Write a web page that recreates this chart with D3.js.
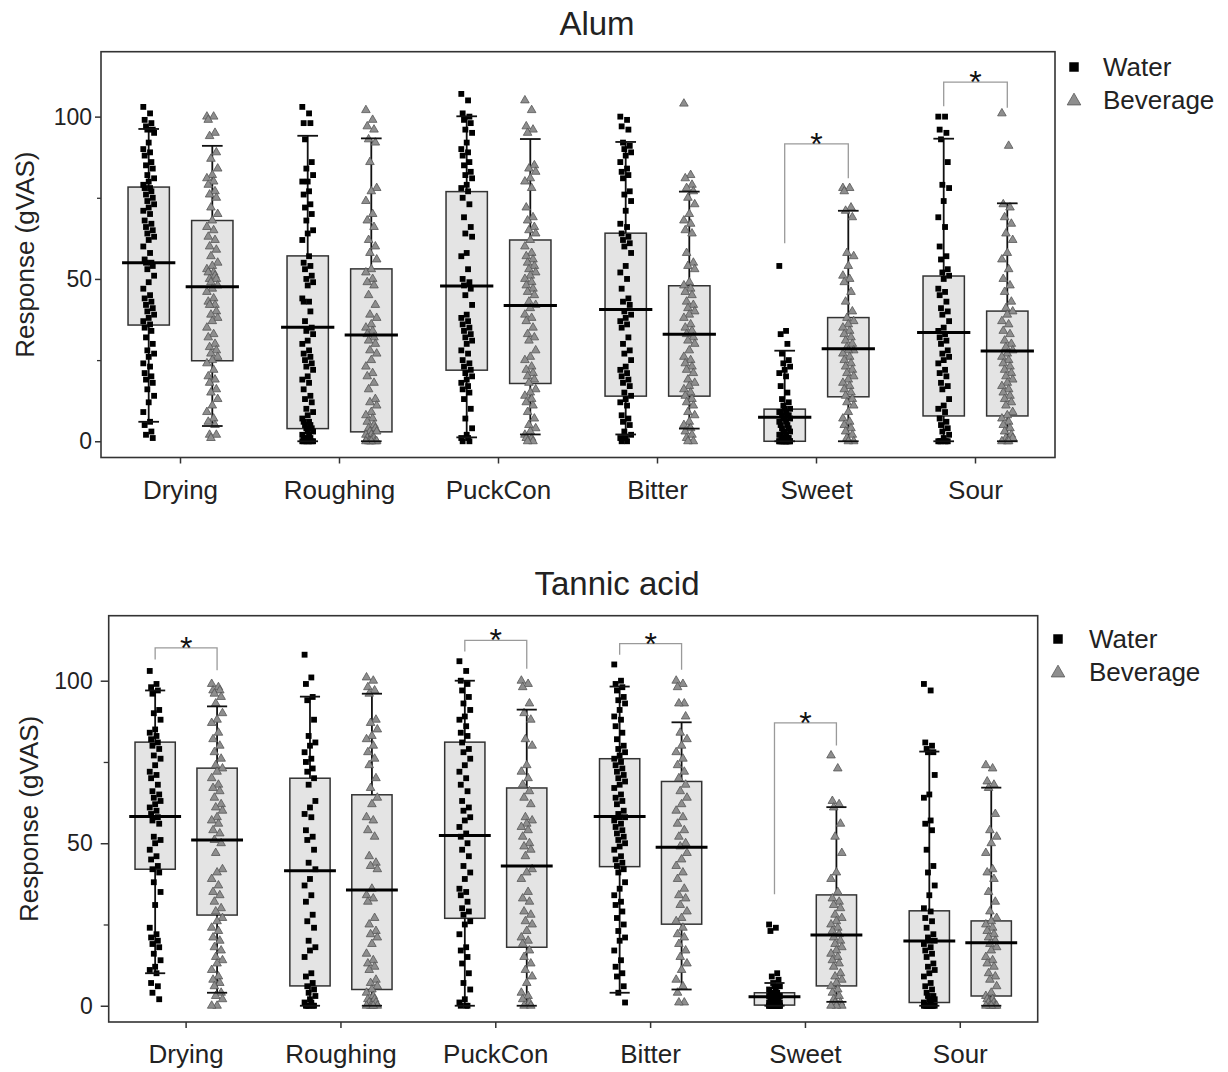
<!DOCTYPE html>
<html><head><meta charset="utf-8">
<script src="https://cdn.jsdelivr.net/npm/d3@7"></script>
<style>
body{margin:0;background:#fff;}
svg{display:block;font-family:"Liberation Sans",Arial,sans-serif;}
</style>
</head><body>
<svg id="chart" width="1228" height="1072"></svg>
<script>
// ---------------- DATA ----------------
const categories = ["Drying","Roughing","PuckCon","Bitter","Sweet","Sour"];
const series = ["Water","Beverage"];
const yTicks = [0,50,100];
const yMinorTicks = [25,75];
const panelTitles = ["Alum","Tannic acid"];
const yAxisTitle = "Response (gVAS)";

// box stats: [whiskerLow, Q1, median, Q3, whiskerHigh]
const alumWaterBox = [[6,35.8,55,78.3,96.2],[0,3.9,35.1,57.1,94.1],[1.2,21.9,47.8,76.9,100.1],[2.1,13.9,40.6,64.1,92.2],[0,0,7.4,9.9,27.9],[0,7.8,33.5,50.9,93.2]];
const alumBevBox   = [[4.7,24.8,47.6,68,91],[0,2.9,32.7,53.1,93.3],[2.1,17.8,41.8,62,93.1],[3.9,13.9,33,47.9,76.9],[0,13.7,28.5,38.1,71],[0,7.8,27.8,40.1,73.3]];
const tannicWaterBox = [[10,42,58.2,81.1,97],[0,6.1,41.5,70,95.1],[0,26.9,52.4,81.1,100],[4,42.8,58.2,76,98.2],[0,0.2,2.8,4,7],[0,1,19.9,29.2,78.2]];
const tannicBevBox   = [[4,27.9,51,73.1,92.1],[0,5,35.6,64.9,96],[0,18,43,67,91.1],[5,25.1,48.8,69,87.2],[1.2,6.1,21.8,34.1,61.1],[0,3,19.4,26.1,67.1]];

// individual responses
const alumWaterPts = [
 [103,101,99,98,97,96,96,95,92,90,89,88,86,85,84,82,81,80,79,78,78,77,76,75,74,73,72,71,70,68,67,66,65,64,63,62,60,58,56,55,55,54,53,51,49,47,45,44,43,42,41,40,39,38,37,36,35,34,32,30,28,27,26,24,23,21,20,19,18,16,14,12,9,6,5,3,2,1],
 [103,101,98,98,93,86,84,82,80,80,77,76,73,72,70,68,65,64,62,57,55,54,53,51,50,49,48,44,43,43,40,37,35,34,33,31,30,28,27,26,25,24,23,22,20,19,18,16,14,13,12,10,9,8,7,6,6,5,5,4,4,3,3,2,2,1,1,1,0,0,0,0,0,0,0],
 [107,105,101,100,99,98,96,95,92,90,89,88,86,85,83,82,81,79,78,77,75,73,69,66,64,63,58,57,53,50,49,48,47,45,42,39,38,37,36,35,34,33,32,31,30,28,27,25,24,23,22,21,20,19,18,17,16,15,13,10,7,4,2,1,1,0,0],
 [100,99,97,96,92,91,90,89,88,86,84,83,82,81,77,76,74,71,67,66,64,63,62,61,60,58,54,52,50,47,44,43,42,40,39,38,37,36,35,32,30,28,27,25,23,22,21,20,19,18,17,15,14,13,12,11,8,7,6,5,3,2,1,1,0,0],
 [54,34,33,30,27,25,24,23,22,21,20,17,15,13,12,11,10,10,9,9,9,8,8,8,7,7,7,6,6,5,5,4,4,3,3,3,2,2,2,1,1,1,1,0,0,0,0,0,0,0,0,0,0,0,0,0],
 [100,100,96,95,93,86,79,78,74,69,66,60,57,56,53,52,51,50,47,46,45,43,41,40,39,37,35,34,33,32,31,30,28,27,26,25,24,22,21,20,18,17,16,13,11,10,9,7,6,5,4,3,2,1,0,0,0,0,0,0]
];
const alumBevPts = [
 [100,100,99,95,94,89,87,84,82,81,80,79,77,76,75,72,70,68,66,65,63,62,60,59,57,55,54,53,52,52,51,50,50,49,48,47,46,44,43,42,42,40,39,38,37,35,33,32,30,29,28,27,26,25,24,22,20,19,18,16,15,13,11,9,7,6,5,2,2,1],
 [102,99,97,96,93,92,86,78,77,74,70,68,66,62,60,58,56,53,52,50,49,48,45,42,39,38,36,35,34,33,32,31,30,28,27,25,23,21,20,18,16,13,12,11,9,8,7,6,5,4,4,3,3,2,2,1,1,1,0,0,0,0,0,0],
 [105,102,97,96,95,85,84,83,81,80,78,72,69,68,66,65,64,62,60,58,57,56,55,54,53,52,51,50,49,48,47,46,45,43,42,41,39,38,37,35,33,32,31,28,26,25,23,22,21,20,19,18,16,15,14,13,12,11,9,7,5,4,3,2,1,1,0,0],
 [104,82,81,79,78,77,75,73,70,68,67,65,64,58,55,54,53,49,48,47,46,45,43,42,41,40,39,38,36,35,34,33,32,31,30,28,26,25,24,23,22,21,19,18,17,16,15,14,13,12,11,9,8,6,5,4,3,2,1,0,0],
 [78,78,77,72,71,69,58,57,54,51,50,49,46,43,40,38,37,36,35,34,33,32,31,30,29,28,28,27,26,25,24,23,22,21,20,19,18,17,16,15,14,13,12,11,9,7,6,5,4,3,2,1,0,0],
 [101,91,73,72,69,67,64,62,58,56,53,50,48,46,43,41,40,39,37,36,34,33,31,30,29,28,27,26,25,24,23,22,21,20,19,18,17,16,15,14,13,12,11,9,8,7,6,5,4,3,2,1,1,0,0,0]
];
const tannicWaterPts = [
 [103,99,98,97,96,91,90,88,85,84,83,82,81,80,79,77,76,74,72,71,70,68,66,65,64,63,62,61,60,59,58,57,56,52,51,50,48,46,45,43,42,41,38,35,31,24,22,21,20,19,18,16,14,12,11,10,7,6,4,2],
 [108,101,99,95,94,88,83,81,80,78,76,75,73,72,70,68,63,61,59,58,54,52,51,48,44,42,39,37,34,32,28,26,24,20,18,17,15,10,9,7,6,5,4,3,2,1,1,0,0,0,0,0],
 [106,103,100,99,97,95,93,91,89,88,86,84,83,81,79,78,76,74,72,70,68,66,63,61,60,58,57,55,53,52,50,48,46,43,41,39,36,35,34,32,30,29,28,26,25,22,18,17,15,13,10,7,5,2,1,0,0,0],
 [105,100,99,98,97,95,94,93,91,89,88,86,84,82,80,79,78,77,76,75,74,73,72,71,70,69,68,67,65,64,63,62,60,59,58,58,57,56,55,54,53,52,51,50,49,48,46,45,44,43,42,41,38,36,34,32,31,29,27,25,23,21,20,17,14,12,10,9,6,4,1],
 [25,24,23,10,9,8,7,6,6,5,5,4,4,4,3,3,3,3,3,2,2,2,2,2,2,1,1,1,1,1,1,0,0,0,0,0,0,0,0,0,0,0,0,0,0,0],
 [99,97,81,80,79,78,78,71,65,64,57,56,54,48,43,41,37,34,30,29,27,26,24,22,21,20,20,19,18,17,16,15,13,12,11,10,9,7,6,5,4,3,3,2,2,1,1,0,0,0,0,0,0,0,0,0]
];
const tannicBevPts = [
 [99,98,97,97,96,95,93,90,88,87,84,82,80,78,76,74,73,72,70,68,67,66,64,62,61,60,58,57,56,54,53,51,50,47,42,41,39,37,35,34,32,30,29,27,26,24,23,21,20,18,17,15,14,13,11,9,8,7,6,4,3,2,0,0],
 [101,100,98,97,96,88,87,85,83,82,80,78,76,74,70,67,64,62,58,57,54,52,46,44,43,42,36,34,33,32,27,25,23,22,21,19,16,14,13,12,11,8,7,6,5,4,3,2,2,1,1,0,0,0,0,0],
 [100,99,98,93,90,88,82,80,74,72,70,68,66,64,62,58,57,56,55,54,52,50,49,48,46,42,41,39,35,33,32,29,28,26,25,23,21,20,19,17,15,13,11,9,7,4,3,2,1,0,0],
 [100,99,98,93,93,89,84,82,80,78,76,74,72,70,68,66,64,62,60,58,56,54,52,50,49,47,45,43,41,39,36,34,33,31,29,27,26,24,22,21,19,17,15,13,11,8,6,4,1,1],
 [77,73,63,62,61,56,52,47,41,39,35,33,32,31,30,28,27,26,25,24,23,22,21,20,19,18,17,16,15,14,13,12,10,9,8,7,6,5,4,3,2,1,1,0,0,0],
 [74,73,69,68,67,59,54,52,50,47,42,41,39,35,32,29,27,26,25,24,23,22,21,20,19,18,17,15,14,13,12,10,9,8,6,4,3,2,2,1,1,0,0,0,0,0]
];

// significance brackets: category, bracket top, water-leg end, beverage-leg end (response units)
const alumSigCats = ["Sweet","Sour"];
const alumSigLevels = [[91.6,61,81],[110.6,103.2,102.7]];
const tannicSigCats = ["Drying","PuckCon","Bitter","Sweet"];
const tannicSigLevels = [[110.1,106.5,103.2],[112.4,109,103.7],[111.4,108,103.4],[87,34.3,80.1]];

// ---------------- LAYOUT ----------------
const svg = d3.select("#chart");
const panels = [
 {title:panelTitles[0], titleX:597, titleY:35, left:101, right:1055, top:51.7, bottom:457.5,
  waterBox:alumWaterBox, bevBox:alumBevBox, waterPts:alumWaterPts, bevPts:alumBevPts,
  sigCats:alumSigCats, sigLevels:alumSigLevels, yTitleX:34, tickLen:6, tickPad:3, minorLen:4,
  legX:1074, legY:67, legTextX:1103},
 {title:panelTitles[1], titleX:617, titleY:595, left:108.7, right:1037.7, top:615.7, bottom:1022,
  waterBox:tannicWaterBox, bevBox:tannicBevBox, waterPts:tannicWaterPts, bevPts:tannicBevPts,
  sigCats:tannicSigCats, sigLevels:tannicSigLevels, yTitleX:38, tickLen:8, tickPad:8, minorLen:5,
  legX:1058, legY:639, legTextX:1089}
];

const dark = "#222";
const triFill = "#8e8e8e", triStroke = "#555";
const jitter = i => (((i*5) % 9) - 4) * 1.35;

panels.forEach(p => {
  const g = svg.append("g");
  const x = d3.scaleBand().domain(categories).range([p.left, p.right]).padding(0);
  const bw = x.bandwidth();
  const sub = d3.scalePoint().domain(series).range([-0.2*bw, 0.2*bw]);
  const y = d3.scaleLinear().domain([-5, 120]).range([p.bottom, p.top]);
  const boxW = 0.26*bw, medW = 0.335*bw, capW = 0.13*bw;

  g.append("text").attr("x", p.titleX).attr("y", p.titleY).attr("text-anchor","middle")
    .attr("font-size", 33).attr("fill", dark).text(p.title);

  g.append("text").attr("transform", `translate(${p.yTitleX},${(p.top+p.bottom)/2}) rotate(-90)`)
    .attr("text-anchor","middle").attr("font-size", 26).attr("fill", dark).text(yAxisTitle);

  const yAx = g.append("g").attr("transform", `translate(${p.left},0)`)
    .call(d3.axisLeft(y).tickValues(yTicks).tickSize(p.tickLen).tickPadding(p.tickPad));
  yAx.select(".domain").remove();
  yAx.selectAll("text").attr("font-size", 23).attr("fill", dark).attr("font-family", "Liberation Sans, Arial, sans-serif");
  yAx.selectAll("line").attr("stroke", "#333").attr("stroke-width", 1.5);
  const yMin = g.append("g").attr("transform", `translate(${p.left},0)`)
    .call(d3.axisLeft(y).tickValues(yMinorTicks).tickSize(p.minorLen).tickFormat(""));
  yMin.select(".domain").remove();
  yMin.selectAll("line").attr("stroke", "#333").attr("stroke-width", 1.3);

  const xAx = g.append("g").attr("transform", `translate(0,${p.bottom})`)
    .call(d3.axisBottom(x).tickSize(6).tickPadding(17));
  xAx.select(".domain").remove();
  xAx.selectAll("text").attr("font-size", 26).attr("fill", dark).attr("font-family", "Liberation Sans, Arial, sans-serif");
  xAx.selectAll("line").attr("stroke", "#333").attr("stroke-width", 1.5);

  g.append("rect").attr("x", p.left).attr("y", p.top).attr("width", p.right-p.left).attr("height", p.bottom-p.top)
    .attr("fill","none").attr("stroke","#333").attr("stroke-width",1.6);

  const groups = [
    {s:"Water", box:p.waterBox, pts:p.waterPts},
    {s:"Beverage", box:p.bevBox, pts:p.bevPts}
  ];

  groups.forEach(gr => {
    categories.forEach((c, ci) => {
      const cx = x(c) + bw/2 + sub(gr.s);
      const [wl, q1, md, q3, wh] = gr.box[ci];
      g.append("rect").attr("x", cx-boxW/2).attr("y", y(q3)).attr("width", boxW).attr("height", y(q1)-y(q3))
        .attr("fill","#e4e4e4").attr("stroke","#333").attr("stroke-width",1.5);
      g.append("line").attr("x1",cx).attr("x2",cx).attr("y1",y(q3)).attr("y2",y(wh)).attr("stroke","#111").attr("stroke-width",1.8);
      g.append("line").attr("x1",cx).attr("x2",cx).attr("y1",y(q1)).attr("y2",y(wl)).attr("stroke","#111").attr("stroke-width",1.8);
    });
  });

  groups.forEach(gr => {
    categories.forEach((c, ci) => {
      const cx = x(c) + bw/2 + sub(gr.s);
      const sym = gr.s === "Water" ? d3.symbol(d3.symbolSquare, 34) : d3.symbol(d3.symbolTriangle, 32);
      g.append("g").selectAll("path").data(gr.pts[ci]).join("path")
        .attr("d", sym)
        .attr("transform", (d,i) => `translate(${cx + jitter(i)},${y(d)})`)
        .attr("fill", gr.s === "Water" ? "#000" : triFill)
        .attr("stroke", gr.s === "Water" ? "none" : triStroke)
        .attr("stroke-width", 0.8);
    });
  });

  groups.forEach(gr => {
    categories.forEach((c, ci) => {
      const cx = x(c) + bw/2 + sub(gr.s);
      const [wl, q1, md, q3, wh] = gr.box[ci];
      g.append("line").attr("x1",cx-medW/2).attr("x2",cx+medW/2).attr("y1",y(md)).attr("y2",y(md))
        .attr("stroke","#000").attr("stroke-width",3);
      [wl, wh].forEach(v => g.append("line").attr("x1",cx-capW/2).attr("x2",cx+capW/2).attr("y1",y(v)).attr("y2",y(v))
        .attr("stroke","#111").attr("stroke-width",1.8));
    });
  });

  p.sigCats.forEach((c, k) => {
    const [top, lEnd, rEnd] = p.sigLevels[k];
    const xw = x(c) + bw/2 + sub("Water"), xb = x(c) + bw/2 + sub("Beverage");
    g.append("path").attr("d", `M${xw},${y(lEnd)}V${y(top)}H${xb}V${y(rEnd)}`)
      .attr("fill","none").attr("stroke","#9a9a9a").attr("stroke-width",1.3);
    g.append("text").attr("x",(xw+xb)/2).attr("y", y(top)+11).attr("text-anchor","middle")
      .attr("font-size", 32).attr("fill", "#111").text("*");
  });

  const lg = g.append("g");
  lg.append("path").attr("d", d3.symbol(d3.symbolSquare, 90)).attr("transform", `translate(${p.legX},${p.legY})`).attr("fill","#000");
  lg.append("text").attr("x", p.legTextX).attr("y", p.legY+9).attr("font-size", 26).attr("fill", dark).text(series[0]);
  lg.append("path").attr("d", d3.symbol(d3.symbolTriangle, 80)).attr("transform", `translate(${p.legX},${p.legY+34})`)
    .attr("fill", triFill).attr("stroke", triStroke).attr("stroke-width",0.8);
  lg.append("text").attr("x", p.legTextX).attr("y", p.legY+42).attr("font-size", 26).attr("fill", dark).text(series[1]);
});
</script>
</body></html>
